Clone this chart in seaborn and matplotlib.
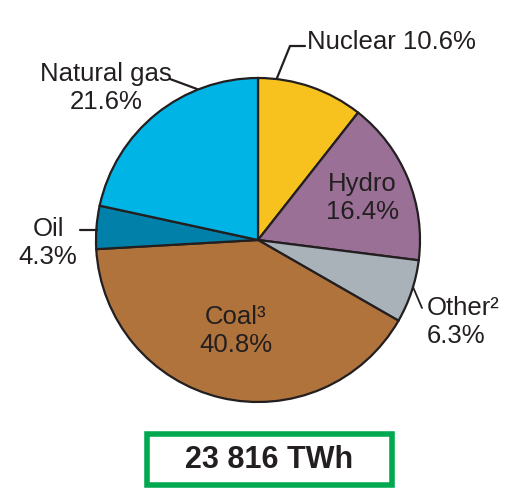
import matplotlib
matplotlib.use("Agg")
import matplotlib.pyplot as plt
import seaborn as sns

# Share of world electricity generation, clockwise from the top
sources = ["Nuclear", "Hydro", "Other²", "Coal³", "Oil", "Natural gas"]
shares = [10.6, 16.4, 6.3, 40.8, 4.3, 21.6]
colors = ["#F7C21E", "#9B7096", "#A9B1B9", "#B0733C", "#0180A9", "#00B4E5"]
total_label = "23 816 TWh"

sns.set_theme(style="white")
plt.rcParams["font.family"] = ["Liberation Sans", "DejaVu Sans"]

INK = "#231F20"
W, H = 515, 501

fig = plt.figure(figsize=(W / 100, H / 100), dpi=100)
ax = fig.add_axes([0, 0, 1, 1])


def py(y):
    """Pixel row (from top) to data y."""
    return H - y


ax.pie(shares, colors=colors, startangle=90, counterclock=False,
       center=(258, py(240)), radius=162, frame=True,
       wedgeprops=dict(edgecolor=INK, linewidth=1.6))
ax.set_xlim(0, W)
ax.set_ylim(0, H)
ax.set_aspect("equal")
ax.axis("off")

lab = dict(color=INK, fontsize=18.5, linespacing=1.25)


def pct(v):
    return f"{v:.1f}%"


# labels with leader lines
ax.text(106, py(88), f"{sources[5]}\n{pct(shares[5])}", ha="center", va="center", **lab)
ax.plot([170, 197], [py(79), py(89)], color=INK, lw=1.6)

ax.text(307, py(42), f"{sources[0]} {pct(shares[0])}", ha="left", va="center", **lab)
ax.plot([305, 290, 277], [py(46), py(46), py(78)], color=INK, lw=1.6)

ax.text(362, py(198), f"{sources[1]}\n{pct(shares[1])}", ha="center", va="center", **lab)

ax.text(48, py(243), f"{sources[4]}\n{pct(shares[4])}", ha="center", va="center", **lab)
ax.plot([80, 97], [py(230), py(230)], color=INK, lw=1.6)

ax.text(427, py(322), f"{sources[2]}\n{pct(shares[2])}", ha="left", va="center", **lab)
ax.plot([413, 422], [py(287), py(308)], color=INK, lw=1.3)

ax.text(236, py(331), f"{sources[3]}\n{pct(shares[3])}", ha="center", va="center", **lab)

# total box
ax.add_patch(plt.Rectangle((147, py(485)), 245, 51, fill=False,
                           edgecolor="#00A850", linewidth=4))
ax.text(269.5, py(459.5), total_label, ha="center", va="center",
        fontsize=22, fontweight="bold", fontstretch="normal", color=INK)

fig.savefig("out.png", dpi=100)
